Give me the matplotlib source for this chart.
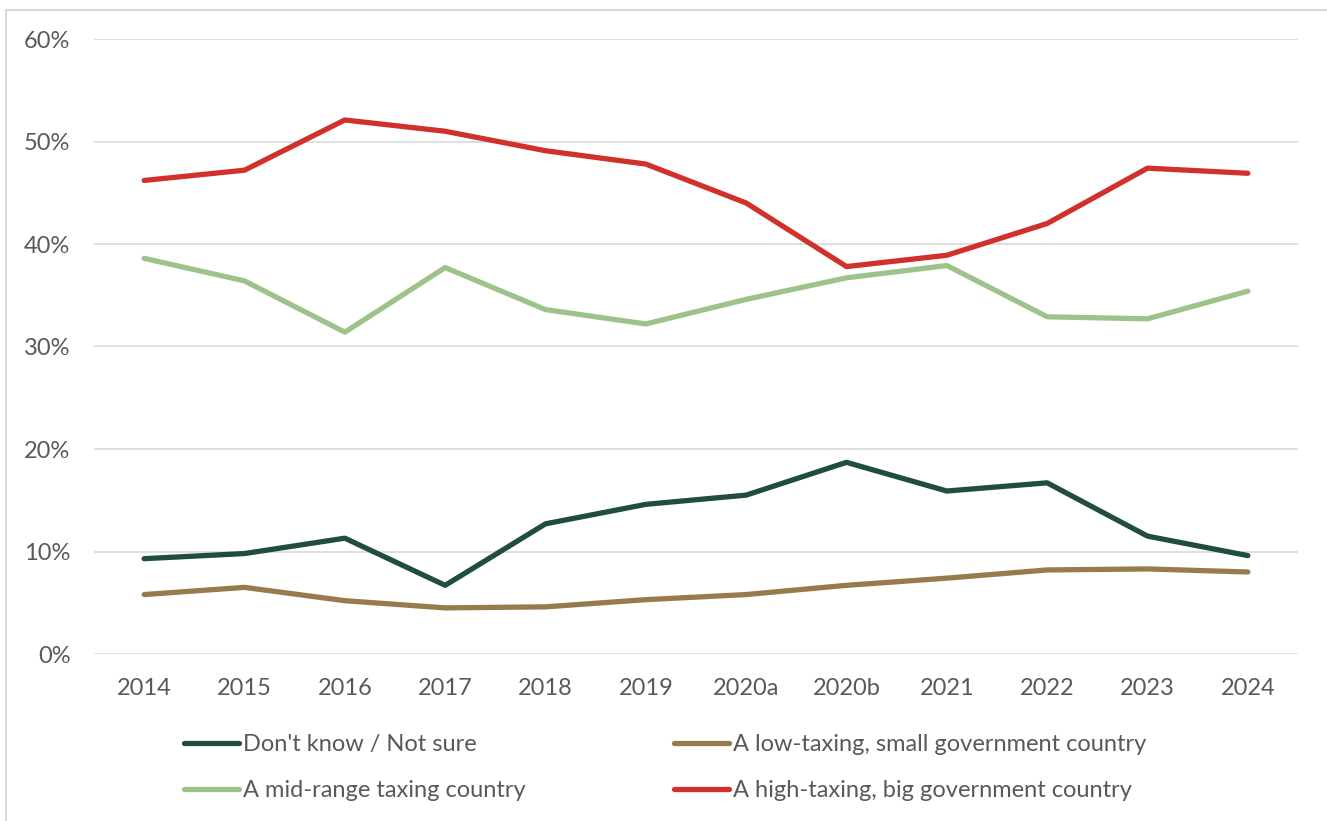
import numpy as np
import matplotlib.pyplot as plt
from matplotlib.patches import Rectangle

plt.rcParams['font.family'] = ['Lato', 'DejaVu Sans']

years = ['2014', '2015', '2016', '2017', '2018', '2019', '2020a', '2020b',
         '2021', '2022', '2023', '2024']

dont_know = [9.3, 9.8, 11.3, 6.7, 12.7, 14.6, 15.5, 18.7, 15.9, 16.7, 11.5, 9.6]
low_tax = [5.8, 6.5, 5.2, 4.5, 4.6, 5.3, 5.8, 6.7, 7.4, 8.2, 8.3, 8.0]
mid_tax = [38.6, 36.4, 31.4, 37.7, 33.6, 32.2, 34.6, 36.7, 37.9, 32.9, 32.7, 35.4]
high_tax = [46.2, 47.2, 52.1, 51.0, 49.1, 47.8, 44.0, 37.8, 38.9, 42.0, 47.4, 46.9]

series = [
    ("Don't know / Not sure", dont_know, '#1F4E3D'),
    ('A low-taxing, small government country', low_tax, '#977B4F'),
    ('A mid-range taxing country', mid_tax, '#9DC38B'),
    ('A high-taxing, big government country', high_tax, '#D1312B'),
]

grey = '#595959'
fs = 17

fig = plt.figure(figsize=(13.27, 8.21), dpi=100)
ax = fig.add_axes([94 / 1327, 1 - 654 / 821, 1204 / 1327, 615 / 821])

x = np.arange(len(years))
for label, vals, col in series:
    ax.plot(x, np.array(vals) / 100, color=col, lw=3.8, label=label,
            solid_capstyle='round', solid_joinstyle='round')

ax.set_xlim(-0.5, len(years) - 0.5)
ax.set_ylim(0, 0.6)
ax.set_yticks(np.arange(0, 0.61, 0.1))
ax.set_yticklabels([f'{int(round(v * 100))}%' for v in np.arange(0, 0.61, 0.1)])
ax.set_xticks(x)
ax.set_xticklabels(years)
ax.grid(axis='y', color='#D9D9D9', lw=1.2)
ax.set_axisbelow(True)
for s in ax.spines.values():
    s.set_visible(False)
ax.tick_params(length=0, labelsize=fs, colors=grey)
ax.tick_params(axis='y', pad=17)
ax.tick_params(axis='x', pad=17)

# legend order: row-wise in two columns
handles, labels = ax.get_legend_handles_labels()
order = [0, 2, 1, 3]
leg = fig.legend([handles[i] for i in order], [labels[i] for i in order],
                 ncol=2, frameon=False, fontsize=fs,
                 loc='upper left', bbox_to_anchor=(163 / 1327, 1 - 713 / 821),
                 handlelength=2.33, handletextpad=0.17, columnspacing=6.27,
                 labelspacing=1.06)
for t in leg.get_texts():
    t.set_color(grey)

# outer frame
fig.patches.append(Rectangle((6 / 1327, -0.05), 1.1, (1 - 10 / 821) + 0.05,
                             transform=fig.transFigure, fill=False,
                             edgecolor='#D9D9D9', lw=1.5))

fig.savefig('out.png', dpi=100)
